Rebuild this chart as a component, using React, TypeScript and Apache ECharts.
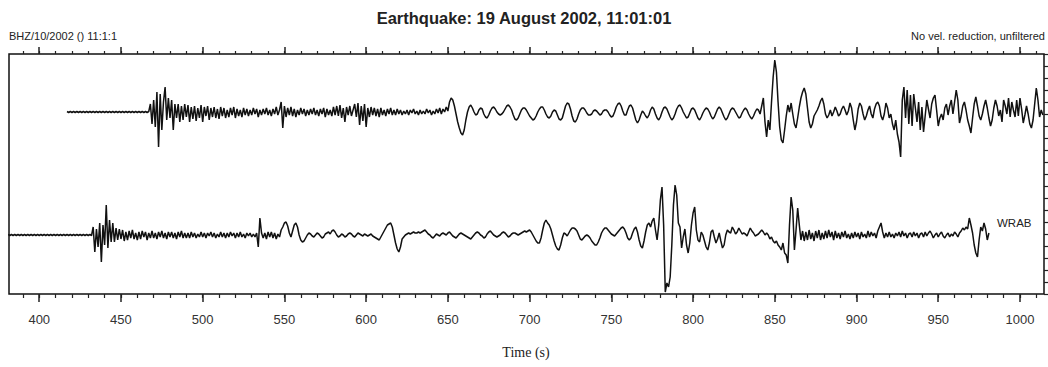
import React, { useEffect, useRef } from "react";
import * as echarts from "echarts";

// ---- data (amplitudes in plot units, sampled every 1 s) ----
const TITLE = "Earthquake: 19 August 2002, 11:01:01";
const HEADER_LEFT = "BHZ/10/2002 () 11:1:1";
const HEADER_RIGHT = "No vel. reduction, unfiltered";
const X_NAME = "Time (s)";
const STATION_LABEL = "WRAB";
const MAJOR_TICKS = [400, 450, 500, 550, 600, 650, 700, 750, 800, 850, 900, 950, 1000];
const MINOR_TICKS = [390, 400, 410, 420, 430, 440, 450, 460, 470, 480, 490, 500, 510, 520, 530, 540, 550, 560, 570, 580, 590, 600, 610, 620, 630, 640, 650, 660, 670, 680, 690, 700, 710, 720, 730, 740, 750, 760, 770, 780, 790, 800, 810, 820, 830, 840, 850, 860, 870, 880, 890, 900, 910, 920, 930, 940, 950, 960, 970, 980, 990, 1000, 1010];
const X_MIN = 381.5;
const X_MAX = 1014.7;

const TRACE1_START = 417;
const TRACE1_BASE = 182;
const trace1 = [
  0.5, -0.5, 0.5, -0.5, 0.5, -0.5, 0.5, -0.5, 0.5, -0.5,
  0.5, -0.5, 0.5, -0.5, 0.5, -0.5, 0.5, -0.5, 0.5, -0.5,
  0.5, -0.5, 0.5, -0.5, 0.5, -0.5, 0.5, -0.5, 0.5, -0.5,
  0.5, -0.5, 0.5, -0.5, 0.5, -0.5, 0.5, -0.5, 0.5, -0.5,
  0.5, -0.5, 0.5, -0.5, 0.5, -0.5, 0.5, -0.5, 0.5, -0.5,
  0.5, 8, -12, 12, -15, 20, -35, 18, -18, 10,
  25, -8, 14, -6, 12, -18, 8, -6, 8, -10,
  6, -8, 8, -5, 7, -10, 5, -7, 6, -9,
  4, -6, 7, -10, 5, -4, 6, -8, 4, -5,
  5, -6, 3, -7, 5, -4, 4, -6, 2, -5,
  4, -3, 5, -6, 3, -4, 2, -5, 4, -3,
  3, -4, 2, -3, 4, -2, 3, -5, 2, -3,
  3, -2, 4, -3, 2, -4, 3, -2, 5, -3,
  2, 10, -16, 6, -5, 4, -3, 5, -4, 3,
  -5, 2, -3, 4, -2, 3, -4, 2, -3, 3,
  -2, 4, -3, 2, -4, 3, -2, 4, -5, 3,
  -3, 2, -4, 5, -3, 6, -4, 7, -6, 4,
  -10, 5, -3, 6, -4, 2, 8, -5, 9, -13,
  6, -9, 8, -15, 4, -5, 5, -3, 4, -4,
  3, -5, 4, -3, 2, -4, 3, -2, 4, -3,
  2, -3, 3, -2, 2, -3, 1, -2, 2, -3,
  2, -1, 3, -2, 1, -3, 2, -2, 1, -2,
  3, -1, 2, -3, 1, -2, 3, -1, 4, -2,
  3, 0, 5, 1, 10, 14, 12, 6, -2, -10,
  -16, -21, -23, -18, -8, 0, 5, 7, 4, 0,
  -3, -2, 2, 4, 3, -2, -5, -6, -3, 1,
  4, 5, 3, 0, -2, -3, -2, 0, 3, 6,
  7, 5, 2, -3, -7, -8, -6, -2, 2, 4,
  4, 2, -1, -4, -6, -8, -7, -4, 0, 3,
  5, 5, 2, -2, -5, -6, -4, 0, 2, 1,
  -3, -7, -8, -6, 0, 6, 9, 8, 3, -4,
  -9, -10, -7, -2, 2, 4, 4, 2, -1, -3,
  -3, -2, 1, 2, 1, -1, -3, -2, 1, 2,
  2, 0, -3, -5, -4, 0, 5, 8, 9, 6,
  1, -3, -3, 2, 6, 7, 4, -2, -8, -11,
  -8, -3, 1, -1, -4, -6, -3, 2, 5, 3,
  -2, -6, -8, -5, 0, 4, 5, 3, -1, -5,
  -8, -6, -2, 3, 6, 7, 4, 0, -3, -6,
  -5, -1, 3, 4, 2, -2, -6, -8, -5, -1,
  2, 4, 3, 0, -4, -7, -5, -1, 3, 5,
  3, -1, -5, -8, -6, -2, 2, 4, 3, 0,
  -3, -6, -5, -1, 2, 4, 2, -2, -5, -7,
  -4, 0, 3, 2, -2, 6, 14, -10, -25, -8,
  -18, 10, 35, 52, 40, 10, -15, -28, -31, -18,
  -4, 7, 0, 9, -2, -12, -16, -6, 5, 14,
  20, 24, 18, 4, -10, -16, -12, -4, -1, 2,
  6, 11, 14, 8, -2, -6, -3, 2, -4, 0,
  5, 1, -4, -2, 3, 6, 2, -3, 1, 9,
  4, -8, -18, -10, 3, 9, 6, -2, -8, -4,
  2, 6, -2, -6, 3, 8, 10, 6, -4, -8,
  -2, 9, 4, -6, -2, -12, -18, -8, -22, -30,
  -45, 12, 25, -6, 22, -12, 17, -14, 18, 4,
  -10, 10, -18, 5, -20, -4, 12, 3, -6, 8,
  14, 17, 2, -14, -6, -2, -8, 4, 8, -3,
  6, 12, -2, 10, 22, 12, -11, -4, 6, 10,
  2, -8, -14, -21, -6, 8, 15, 6, -4, -8,
  -2, 6, 12, 4, -6, -14, -8, 4, 12, 6,
  -4, 2, -10, 12, 6, -2, 14, -5, 10, 2,
  -5, 12, -4, 14, 3, -11, -3, 6, -2, -12,
  -16, -8, 8, 24, 12, -5, 2, -3,
];

const TRACE2_START = 381;
const TRACE2_BASE = 59;
const trace2 = [
  0.5, -0.5, 0.5, -0.5, 0.5, -0.5, 0.5, -0.5, 0.5, -0.5,
  0.5, -0.5, 0.5, -0.5, 0.5, -0.5, 0.5, -0.5, 0.5, -0.5,
  0.5, -0.5, 0.5, -0.5, 0.5, -0.5, 0.5, -0.5, 0.5, -0.5,
  0.5, -0.5, 0.5, -0.5, 0.5, -0.5, 0.5, -0.5, 0.5, -0.5,
  0.5, -0.5, 0.5, -0.5, 0.5, -0.5, 0.5, -0.5, 0.5, -0.5,
  0.5, -0.5, 8, -17, 6, -12, 12, -27, 10, -10,
  30, -13, 15, -7, 12, -7, 7, -5, 6, -4,
  5, -6, 3, -5, 4, -3, 5, -4, 2, -5,
  3, -4, 4, -2, 3, -5, 2, -3, 4, -3,
  2, -4, 3, -2, 4, -3, 2, -4, 3, -2,
  3, -3, 2, -4, 3, -2, 4, -3, 2, -3,
  2, -3, 3, -2, 2, -3, 1, -2, 3, -2,
  2, -3, 2, -1, 3, -2, 2, -3, 1, -2,
  3, -2, 2, -3, 2, -2, 3, -1, 2, -3,
  2, -2, 3, -2, 1, -3, 2, -1, 2, -2,
  1, -2, 2, -12, 17, 2, -3, 2, -4, 3,
  -2, 3, -3, 2, -4, 1, -2, 5, 8, 12,
  13, 9, 2, -2, 4, 10, 12, 8, 0, -5,
  -7, -6, -3, 0, 2, 1, -1, -2, 0, 2,
  1, -1, -3, -2, 1, 2, 3, 1, 4, 5,
  3, 0, -2, -1, 1, 0, -2, -1, 1, 2,
  1, -1, -2, 0, 2, 1, 0, -1, 1, 0,
  -1, 0, 1, -1, -2, -3, -4, -5, -2, 1,
  4, 7, 10, 11, 12, 8, 0, -8, -14, -17,
  -12, -4, -2, 0, 1, 2, 1, 2, 3, 2,
  2, 3, 2, 3, 4, 5, 3, 1, 0, -2,
  -3, -1, 1, 0, -1, 1, 2, 1, 0, 2,
  3, 1, -1, -2, -3, -1, 1, 2, 1, 0,
  -1, -2, -3, -4, -2, 0, 2, 3, 2, 0,
  -1, -3, -2, 1, 3, 4, 2, 0, -1, -2,
  -1, 0, 2, 3, 2, 0, -2, -1, 1, 2,
  2, 1, 0, 1, 2, 3, 4, 3, 4, 5,
  3, 0, -3, -6, -8, -8, -3, 5, 12, 15,
  12, 10, 6, 0, -6, -11, -14, -15, -10, -3,
  2, 1, -1, 2, 5, 7, 7, 6, 4, 0,
  -4, -5, -3, -1, 0, -1, -3, -6, -8, -10,
  -10, -7, -3, 2, 5, 7, 7, 5, 3, 1,
  0, -1, 1, 3, 5, 7, 8, 6, 2, -3,
  -5, -3, 2, 6, 8, 3, -5, -11, -13, -6,
  3, 10, 12, 8, 14, 17, 5, -5, 10, 35,
  48, 10, -57, -48, -52, -42, -10, 30, 50, 40,
  12, 8, -13, -2, 6, -10, -18, -8, 10, 22,
  28, 5, -5, -7, 3, 0, -6, -12, -15, -8,
  3, 5, -2, -8, -4, 2, -6, -13, -10, 0,
  5, 3, 2, 8, 5, 1, 3, 7, 4, 1,
  2, 1, -1, 3, 7, 4, 2, -1, 0, 1,
  3, 5, 3, 0, 2, 0, -4, -2, -6, -8,
  -6, -10, -12, -15, -8, -18, -20, -28, 10, 38,
  25, -15, 5, 27, 10, -5, 4, -6, 3, -5,
  5, -4, 2, -6, 4, -3, 5, -5, 2, -4,
  4, -3, 5, -2, 3, -5, 4, -3, 2, -4,
  3, -2, 4, -3, 1, -4, 2, -3, 3, -2,
  2, -4, 3, -2, 1, -3, 4, -2, 3, -1,
  2, -3, 4, 8, 12, 3, -3, 2, -2, 3,
  -2, 1, -3, 2, -1, 3, -2, 4, -1, 2,
  -3, 1, 2, -2, 3, -1, 2, -3, 1, 2,
  -2, 3, -1, 2, 4, 1, -3, 0, 2, -2,
  1, 3, -1, -3, 0, 2, -2, 1, -1, 3,
  1, -2, 2, 4, 7, 5, 8, 6, 17, 10,
  2, -10, -18, -22, -5, 8, 4, 12, 6, -5,
  2,
];

const W = 1048;
const H = 367;
const GRID = { left: 9, top: 54, width: 1035, height: 240 };

export default function App() {
  const ref = useRef<HTMLDivElement>(null);
  useEffect(() => {
    if (!ref.current) return;
    const chart = echarts.init(ref.current, undefined, { renderer: "svg" });
    const d1 = trace1.map((a, i) => [TRACE1_START + i, TRACE1_BASE + a]);
    const d2 = trace2.map((a, i) => [TRACE2_START + i, TRACE2_BASE + a]);
    const tickColor = "#222";
    const baseX = {
      type: "value",
      min: X_MIN,
      max: X_MAX,
      gridIndex: 0,
      splitLine: { show: false },
      axisLine: { show: false },
    };
    chart.setOption({
      animation: false,
      backgroundColor: "#fff",
      grid: {
        ...GRID,
        show: true,
        borderColor: "#111",
        borderWidth: 1.5,
        backgroundColor: "transparent",
      },
      xAxis: [
        {
          ...baseX,
          position: "bottom",
          axisTick: { show: true, customValues: MAJOR_TICKS, length: 8, lineStyle: { color: tickColor, width: 1.5 } },
          axisLabel: {
            show: true,
            customValues: MAJOR_TICKS,
            formatter: (v: number) => String(Math.round(v)),
            margin: 19,
            fontSize: 13,
            color: "#333",
            fontFamily: "Liberation Sans",
          },
        },
        {
          ...baseX,
          position: "bottom",
          axisTick: { show: true, customValues: MINOR_TICKS, length: 4, lineStyle: { color: tickColor, width: 1.2 } },
          axisLabel: { show: false },
        },
        {
          ...baseX,
          position: "top",
          axisTick: { show: true, customValues: MAJOR_TICKS, length: 7, lineStyle: { color: tickColor, width: 1.5 } },
          axisLabel: { show: false },
        },
        {
          ...baseX,
          position: "top",
          axisTick: { show: true, customValues: MINOR_TICKS, length: 3, lineStyle: { color: tickColor, width: 1.2 } },
          axisLabel: { show: false },
        },
      ],
      yAxis: {
        type: "value",
        min: 0,
        max: 240,
        interval: 12,
        position: "right",
        axisLine: { show: false },
        axisTick: { show: true, length: 4, lineStyle: { color: tickColor, width: 1.2 } },
        axisLabel: { show: false },
        splitLine: { show: false },
      },
      series: [
        {
          type: "line",
          data: d1,
          xAxisIndex: 0,
          yAxisIndex: 0,
          showSymbol: false,
          lineStyle: { color: "#111", width: 1.5 },
        },
        {
          type: "line",
          data: d2,
          xAxisIndex: 0,
          yAxisIndex: 0,
          showSymbol: false,
          lineStyle: { color: "#111", width: 1.5 },
        },
      ],
      graphic: [
        {
          type: "text",
          x: 524,
          y: 18,
          style: {
            text: TITLE,
            font: "bold 16.5px 'Liberation Sans', Arial, sans-serif",
            fill: "#222",
            textAlign: "center",
            textVerticalAlign: "middle",
          },
        },
        {
          type: "text",
          x: 9,
          y: 36,
          style: {
            text: HEADER_LEFT,
            font: "11px 'Liberation Sans', Arial, sans-serif",
            fill: "#222",
            textAlign: "left",
            textVerticalAlign: "middle",
          },
        },
        {
          type: "text",
          x: 1045,
          y: 36,
          style: {
            text: HEADER_RIGHT,
            font: "11px 'Liberation Sans', Arial, sans-serif",
            fill: "#222",
            textAlign: "right",
            textVerticalAlign: "middle",
          },
        },
        {
          type: "text",
          x: 997,
          y: 223,
          style: {
            text: STATION_LABEL,
            font: "11.5px 'Liberation Sans', Arial, sans-serif",
            fill: "#222",
            textAlign: "left",
            textVerticalAlign: "middle",
          },
        },
        {
          type: "text",
          x: 526,
          y: 352,
          style: {
            text: X_NAME,
            font: "14px 'Liberation Serif', 'DejaVu Serif', serif",
            fill: "#222",
            textAlign: "center",
            textVerticalAlign: "middle",
          },
        },
      ],
    });
    return () => chart.dispose();
  }, []);
  return (
    <div
      ref={ref}
      style={{ position: "fixed", left: 0, top: 0, width: W, height: H }}
    />
  );
}
